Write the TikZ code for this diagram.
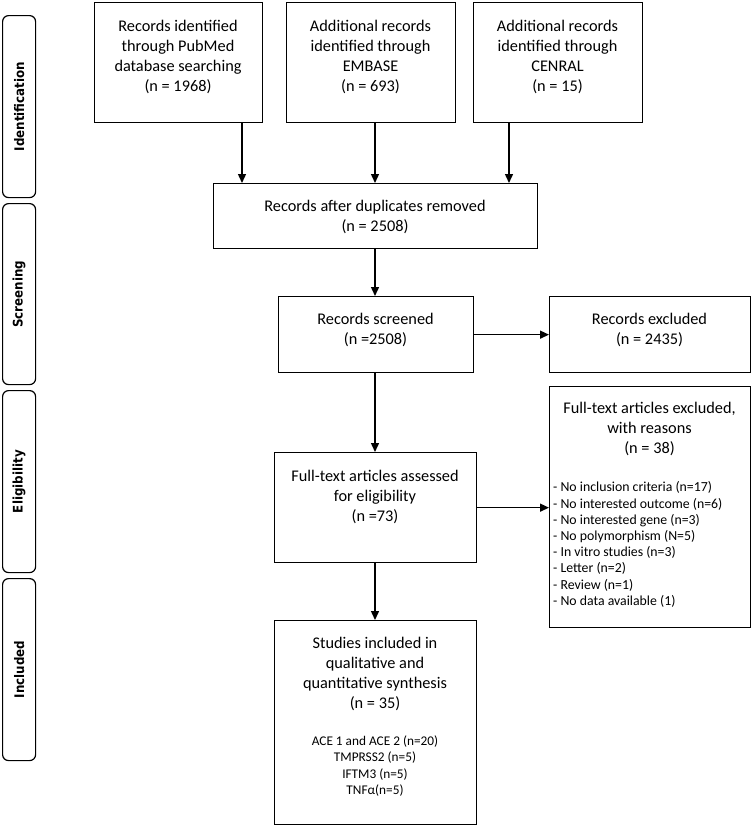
\documentclass[tikz,border=0pt]{standalone}
\usepackage{fontspec}
\setmainfont{Carlito}
\newfontfamily\sidefont{DejaVu Sans Condensed}
\usetikzlibrary{arrows.meta}
\tikzset{
  box/.style={draw, line width=1.3pt, inner sep=0pt, anchor=north west},
  side/.style={draw, line width=1.2pt, rounded corners=6pt, inner sep=0pt, anchor=north west, minimum width=33pt},
  sidetxt/.style={rotate=90, font=\sidefont\bfseries\fontsize{13.2}{14}\selectfont},
  ttl/.style={align=center, inner sep=0pt, font=\fontsize{16.3}{20}\selectfont},
  lst/.style={align=center, inner sep=0pt, font=\fontsize{13.3}{16.5}\selectfont},
  lstl/.style={align=left, inner sep=0pt, anchor=west, font=\fontsize{13.8}{16.2}\selectfont},
  arr/.style={line width=1.4pt, -{Triangle[length=9pt,width=8pt]}}
}
\begin{document}
\begin{tikzpicture}[x=1pt,y=-1pt]
\useasboundingbox (0,0) rectangle (751,825);
% side labels
\node[side, minimum height=182pt] (s1) at (2,15) {};
\node[sidetxt] (s1t) at (s1.center) {Identification};
\node[side, minimum height=181pt] (s2) at (2,203) {};
\node[sidetxt] (s2t) at (s2.center) {Screening};
\node[side, minimum height=182pt] (s3) at (2,390) {};
\node[sidetxt] (s3t) at (s3.center) {Eligibility};
\node[side, minimum height=182pt] (s4) at (2,578) {};
\node[sidetxt] (s4t) at (s4.center) {Included};
% boxes
\node[box, minimum width=168pt, minimum height=120pt] (b1) at (94,2) {};
\node[ttl] (t1) at (178,57) {Records identified\\through PubMed\\database searching\\(n = 1968)};
\node[box, minimum width=169pt, minimum height=120pt] (b2) at (286,2) {};
\node[ttl] (t2) at (370.5,56.5) {Additional records\\identified through\\EMBASE\\(n = 693)};
\node[box, minimum width=169pt, minimum height=120pt] (b3) at (473,2) {};
\node[ttl] (t3) at (557.5,56.5) {Additional records\\identified through\\CENRAL\\(n = 15)};
\node[box, minimum width=324pt, minimum height=65pt] (b4) at (213,183) {};
\node[ttl] (t4) at (375,216.5) {Records after duplicates removed\\(n = 2508)};
\node[box, minimum width=195pt, minimum height=76pt] (b5) at (278,296) {};
\node[ttl] (t5) at (375.5,329.5) {Records screened\\(n =2508)};
\node[box, minimum width=201pt, minimum height=76pt] (b6) at (549,296) {};
\node[ttl] (t6) at (649.5,329.5) {Records excluded\\(n = 2435)};
\node[box, minimum width=202pt, minimum height=110pt] (b7) at (274,452) {};
\node[ttl] (t7) at (375,497) {Full-text articles assessed\\for eligibility\\(n =73)};
\node[box, minimum width=201pt, minimum height=241pt] (b8) at (549,386) {};
\node[ttl] (t8) at (649.5,429) {Full-text articles excluded,\\with reasons\\(n = 38)};
\node[lstl] (l8) at (553,544.5) {- No inclusion criteria (n=17)\\- No interested outcome (n=6)\\- No interested gene (n=3)\\- No polymorphism (N=5)\\- In vitro studies (n=3)\\- Letter (n=2)\\- Review (n=1)\\- No data available (1)};
\node[box, minimum width=202pt, minimum height=204pt] (b9) at (274,620) {};
\node[ttl] (t9) at (375,674) {Studies included in\\qualitative and\\quantitative synthesis\\(n = 35)};
\node[lst] (l9) at (375,766) {ACE 1 and ACE 2 (n=20)\\TMPRSS2 (n=5)\\IFTM3 (n=5)\\TNFα(n=5)};
% arrow columns
\coordinate (x1) at (242,0);
\coordinate (x2) at (375,0);
\coordinate (x3) at (509,0);
\draw[arr] (b1.south -| x1) -- (b4.north -| x1);
\draw[arr] (b2.south -| x2) -- (b4.north -| x2);
\draw[arr] (b3.south -| x3) -- (b4.north -| x3);
\draw[arr] (b4.south -| x2) -- (b5.north -| x2);
\draw[arr] (b5.east) -- (b5.east -| b6.west);
\draw[arr] (b5.south -| x2) -- (b7.north -| x2);
\draw[arr] (b7.east) -- (b7.east -| b8.west);
\draw[arr] (b7.south -| x2) -- (b9.north -| x2);
\end{tikzpicture}
\end{document}
